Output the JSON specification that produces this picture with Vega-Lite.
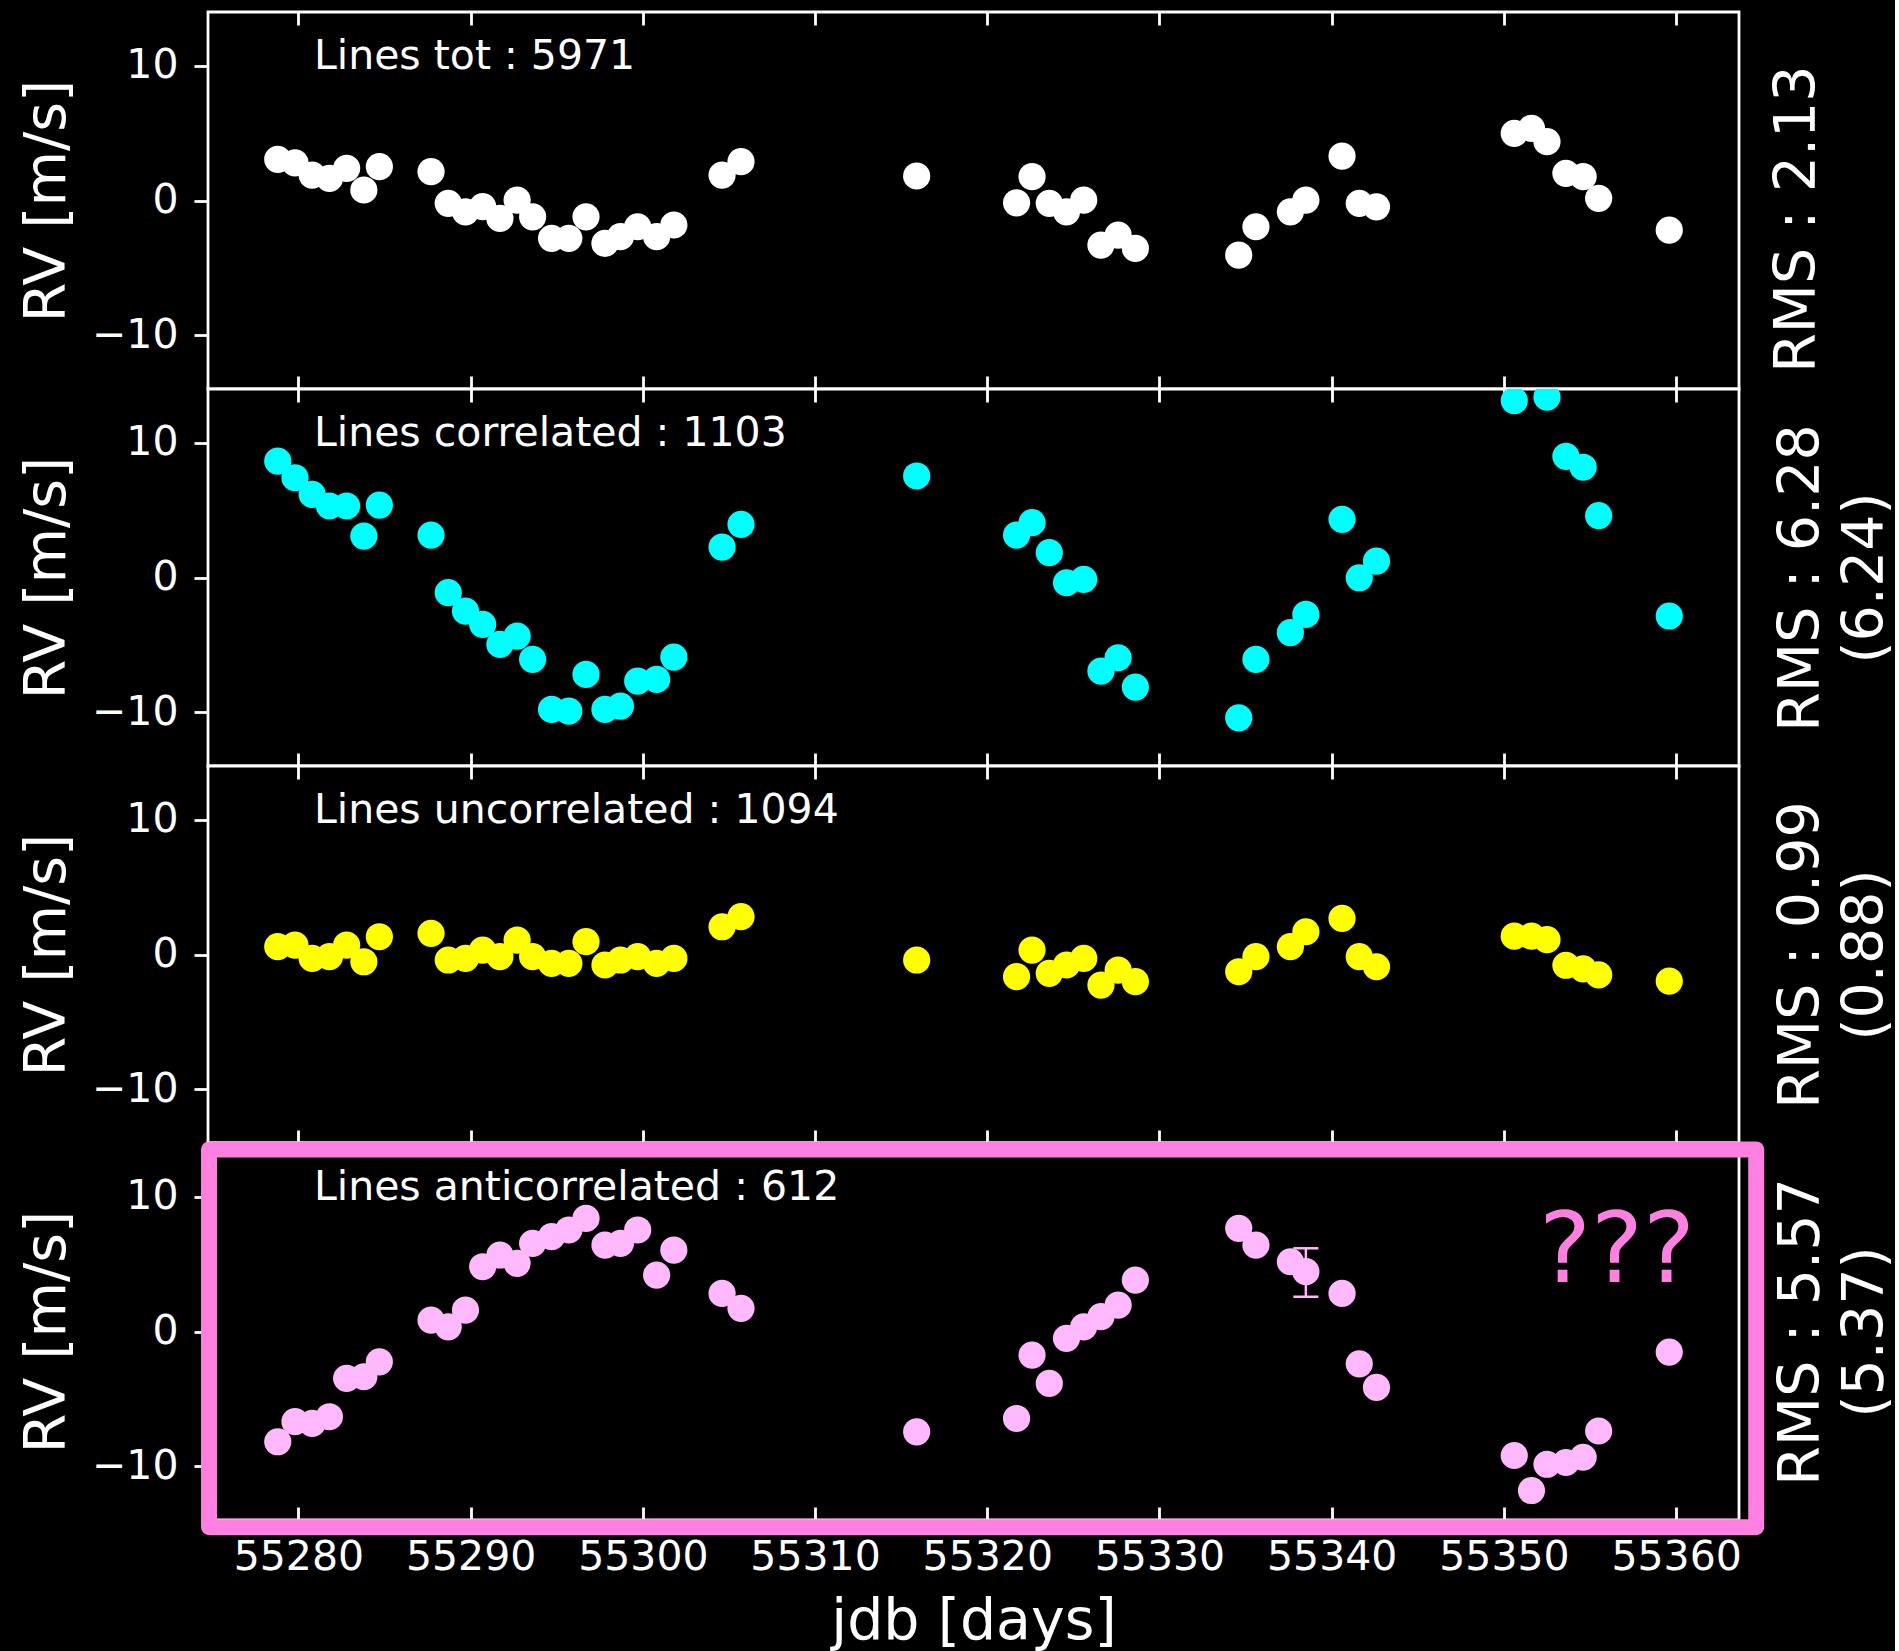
{
  "$schema": "https://vega.github.io/schema/vega-lite/v6.json",
  "background": "#000000",
  "padding": {"left": 16, "top": 9, "right": 0, "bottom": 0},
  "spacing": 0,
  "bounds": "flush",
  "datasets": {
    "rv": [
      {"jdb":55278.8,"tot":3.06,"cor":8.65,"unc":0.58,"anti":-8.19},
      {"jdb":55279.8,"tot":2.8,"cor":7.41,"unc":0.7,"anti":-6.7},
      {"jdb":55280.8,"tot":1.89,"cor":6.17,"unc":-0.29,"anti":-6.83},
      {"jdb":55281.8,"tot":1.64,"cor":5.31,"unc":-0.16,"anti":-6.33},
      {"jdb":55282.8,"tot":2.39,"cor":5.31,"unc":0.7,"anti":-3.48},
      {"jdb":55283.8,"tot":0.78,"cor":3.08,"unc":-0.54,"anti":-3.36},
      {"jdb":55284.7,"tot":2.51,"cor":5.38,"unc":1.32,"anti":-2.25},
      {"jdb":55287.7,"tot":2.14,"cor":3.15,"unc":1.57,"anti":0.85},
      {"jdb":55288.7,"tot":-0.21,"cor":-1.13,"unc":-0.41,"anti":0.35},
      {"jdb":55289.7,"tot":-0.84,"cor":-2.49,"unc":-0.29,"anti":1.59},
      {"jdb":55290.7,"tot":-0.46,"cor":-3.48,"unc":0.33,"anti":4.81},
      {"jdb":55291.7,"tot":-1.33,"cor":-4.97,"unc":-0.16,"anti":5.68},
      {"jdb":55292.7,"tot":0.03,"cor":-4.35,"unc":1.07,"anti":5.06},
      {"jdb":55293.6,"tot":-1.21,"cor":-6.08,"unc":-0.16,"anti":6.55},
      {"jdb":55294.7,"tot":-2.81,"cor":-9.8,"unc":-0.66,"anti":7.04},
      {"jdb":55295.7,"tot":-2.81,"cor":-9.92,"unc":-0.66,"anti":7.54},
      {"jdb":55296.7,"tot":-1.21,"cor":-7.2,"unc":0.95,"anti":8.4},
      {"jdb":55297.8,"tot":-3.19,"cor":-9.8,"unc":-0.78,"anti":6.42},
      {"jdb":55298.7,"tot":-2.69,"cor":-9.55,"unc":-0.41,"anti":6.55},
      {"jdb":55299.7,"tot":-1.95,"cor":-7.69,"unc":-0.16,"anti":7.54},
      {"jdb":55300.8,"tot":-2.69,"cor":-7.57,"unc":-0.66,"anti":4.19},
      {"jdb":55301.8,"tot":-1.82,"cor":-5.91,"unc":-0.29,"anti":6.05},
      {"jdb":55304.6,"tot":1.89,"cor":2.26,"unc":2.06,"anti":2.83},
      {"jdb":55305.7,"tot":2.88,"cor":3.95,"unc":2.81,"anti":1.72},
      {"jdb":55315.9,"tot":1.82,"cor":7.54,"unc":-0.41,"anti":-7.45},
      {"jdb":55321.7,"tot":-0.17,"cor":3.15,"unc":-1.65,"anti":-6.46},
      {"jdb":55322.6,"tot":1.77,"cor":4.07,"unc":0.33,"anti":-1.75},
      {"jdb":55323.6,"tot":-0.21,"cor":1.84,"unc":-1.4,"anti":-3.86},
      {"jdb":55324.6,"tot":-0.84,"cor":-0.39,"unc":-0.78,"anti":-0.51},
      {"jdb":55325.6,"tot":0.03,"cor":-0.14,"unc":-0.29,"anti":0.35},
      {"jdb":55326.6,"tot":-3.31,"cor":-6.95,"unc":-2.27,"anti":1.1},
      {"jdb":55327.6,"tot":-2.57,"cor":-5.96,"unc":-1.16,"anti":1.96},
      {"jdb":55328.6,"tot":-3.56,"cor":-8.14,"unc":-2.02,"anti":3.82},
      {"jdb":55334.6,"tot":-4.05,"cor":-10.42,"unc":-1.28,"anti":7.66},
      {"jdb":55335.6,"tot":-1.95,"cor":-6.08,"unc":-0.16,"anti":6.42},
      {"jdb":55337.6,"tot":-0.84,"cor":-4.1,"unc":0.58,"anti":5.18},
      {"jdb":55338.5,"tot":0.03,"cor":-2.74,"unc":1.69,"anti":4.44},
      {"jdb":55340.6,"tot":3.3,"cor":4.32,"unc":2.68,"anti":2.83},
      {"jdb":55341.6,"tot":-0.21,"cor":-0.02,"unc":-0.16,"anti":-2.4},
      {"jdb":55342.6,"tot":-0.47,"cor":1.22,"unc":-0.91,"anti":-4.15},
      {"jdb":55350.6,"tot":4.99,"cor":13.14,"unc":1.36,"anti":-9.21},
      {"jdb":55351.6,"tot":5.36,"cor":15.2,"unc":1.36,"anti":-11.81},
      {"jdb":55352.5,"tot":4.37,"cor":13.4,"unc":1.1,"anti":-9.86},
      {"jdb":55353.6,"tot":2.02,"cor":9.0,"unc":-0.8,"anti":-9.73},
      {"jdb":55354.6,"tot":1.77,"cor":8.19,"unc":-1.07,"anti":-9.34},
      {"jdb":55355.5,"tot":0.16,"cor":4.59,"unc":-1.52,"anti":-7.39},
      {"jdb":55359.6,"tot":-2.2,"cor":-2.86,"unc":-1.97,"anti":-1.53}
    ],
    "err": [{"jdb": 55338.5, "lo": 2.58, "hi": 6.18}]
  },
  "vconcat": [
    {
      "width": 1531, "height": 377,
      "layer": [
        {
          "data": {"name": "rv"},
          "mark": {"type": "point", "filled": true, "size": 740, "opacity": 1, "clip": true, "color": "#ffffff"},
          "encoding": {
            "x": {"field": "jdb", "type": "quantitative", "scale": {"domain": [55274.75, 55363.65], "nice": false, "zero": false},
                  "axis": {"orient": "bottom", "values": [55280,55290,55300,55310,55320,55330,55340,55350,55360], "tickSize": -13, "labels": false, "title": null}},
            "y": {"field": "tot", "type": "quantitative", "scale": {"domain": [-14, 14], "nice": false, "zero": false},
                  "axis": {"orient": "left", "values": [-10, 0, 10], "tickSize": 14, "labelPadding": 16, "title": "RV [m/s]", "titleAngle": -90, "titleBaseline": "alphabetic", "titlePadding": 24, "minExtent": 120, "maxExtent": 120}}
          }
        },
        {
          "data": {"values": [{"label": "Lines tot : 5971"}]},
          "mark": {"type": "text", "align": "left", "baseline": "alphabetic", "fontSize": 41, "fill": "#ffffff"},
          "encoding": {
            "x": {"datum": 55280.9, "type": "quantitative", "scale": {"domain": [55274.75, 55363.65], "nice": false, "zero": false},
                  "axis": {"orient": "top", "values": [55280,55290,55300,55310,55320,55330,55340,55350,55360], "tickSize": -13, "labels": false, "title": null}},
            "y": {"datum": 9.8, "type": "quantitative",
                  "axis": {"orient": "right", "ticks": false, "labels": false, "title": "RMS : 2.13\u00a0\u00a0\u200b", "titleAngle": -90, "titleBaseline": "alphabetic", "titlePadding": 75, "minExtent": 0, "maxExtent": 0, "titleLineHeight": 64}},
            "text": {"field": "label"}
          }
        }
      ],
      "resolve": {"axis": {"x": "independent", "y": "independent"}}
    },
    {
      "width": 1531, "height": 377,
      "layer": [
        {
          "data": {"name": "rv"},
          "mark": {"type": "point", "filled": true, "size": 740, "opacity": 1, "clip": true, "color": "#00ffff"},
          "encoding": {
            "x": {"field": "jdb", "type": "quantitative", "scale": {"domain": [55274.75, 55363.65], "nice": false, "zero": false},
                  "axis": {"orient": "bottom", "values": [55280,55290,55300,55310,55320,55330,55340,55350,55360], "tickSize": -13, "labels": false, "title": null}},
            "y": {"field": "cor", "type": "quantitative", "scale": {"domain": [-14, 14], "nice": false, "zero": false},
                  "axis": {"orient": "left", "values": [-10, 0, 10], "tickSize": 14, "labelPadding": 16, "title": "RV [m/s]", "titleAngle": -90, "titleBaseline": "alphabetic", "titlePadding": 24, "minExtent": 120, "maxExtent": 120}}
          }
        },
        {
          "data": {"values": [{"label": "Lines correlated : 1103"}]},
          "mark": {"type": "text", "align": "left", "baseline": "alphabetic", "fontSize": 41, "fill": "#ffffff"},
          "encoding": {
            "x": {"datum": 55280.9, "type": "quantitative", "scale": {"domain": [55274.75, 55363.65], "nice": false, "zero": false},
                  "axis": {"orient": "top", "values": [55280,55290,55300,55310,55320,55330,55340,55350,55360], "tickSize": -13, "labels": false, "title": null}},
            "y": {"datum": 9.8, "type": "quantitative",
                  "axis": {"orient": "right", "ticks": false, "labels": false, "title": ["RMS : 6.28", "(6.24)"], "titleAngle": -90, "titleBaseline": "alphabetic", "titlePadding": 15, "minExtent": 0, "maxExtent": 0, "titleLineHeight": 64}},
            "text": {"field": "label"}
          }
        }
      ],
      "resolve": {"axis": {"x": "independent", "y": "independent"}}
    },
    {
      "width": 1531, "height": 377,
      "layer": [
        {
          "data": {"name": "rv"},
          "mark": {"type": "point", "filled": true, "size": 740, "opacity": 1, "clip": true, "color": "#ffff00"},
          "encoding": {
            "x": {"field": "jdb", "type": "quantitative", "scale": {"domain": [55274.75, 55363.65], "nice": false, "zero": false},
                  "axis": {"orient": "bottom", "values": [55280,55290,55300,55310,55320,55330,55340,55350,55360], "tickSize": -13, "labels": false, "title": null}},
            "y": {"field": "unc", "type": "quantitative", "scale": {"domain": [-14, 14], "nice": false, "zero": false},
                  "axis": {"orient": "left", "values": [-10, 0, 10], "tickSize": 14, "labelPadding": 16, "title": "RV [m/s]", "titleAngle": -90, "titleBaseline": "alphabetic", "titlePadding": 24, "minExtent": 120, "maxExtent": 120}}
          }
        },
        {
          "data": {"values": [{"label": "Lines uncorrelated : 1094"}]},
          "mark": {"type": "text", "align": "left", "baseline": "alphabetic", "fontSize": 41, "fill": "#ffffff"},
          "encoding": {
            "x": {"datum": 55280.9, "type": "quantitative", "scale": {"domain": [55274.75, 55363.65], "nice": false, "zero": false},
                  "axis": {"orient": "top", "values": [55280,55290,55300,55310,55320,55330,55340,55350,55360], "tickSize": -13, "labels": false, "title": null}},
            "y": {"datum": 9.8, "type": "quantitative",
                  "axis": {"orient": "right", "ticks": false, "labels": false, "title": ["RMS : 0.99", "(0.88)"], "titleAngle": -90, "titleBaseline": "alphabetic", "titlePadding": 15, "minExtent": 0, "maxExtent": 0, "titleLineHeight": 64}},
            "text": {"field": "label"}
          }
        }
      ],
      "resolve": {"axis": {"x": "independent", "y": "independent"}}
    },
    {
      "width": 1531, "height": 377,
      "layer": [
        {
          "data": {"name": "rv"},
          "mark": {"type": "point", "filled": true, "size": 740, "opacity": 1, "clip": true, "color": "#ffb8fb"},
          "encoding": {
            "x": {"field": "jdb", "type": "quantitative", "scale": {"domain": [55274.75, 55363.65], "nice": false, "zero": false},
                  "axis": {"orient": "bottom", "values": [55280,55290,55300,55310,55320,55330,55340,55350,55360], "format": "d", "tickSize": -13, "labelPadding": 30, "title": "jdb [days]", "titleBaseline": "alphabetic", "titlePadding": 58, "minExtent": 60, "maxExtent": 60}},
            "y": {"field": "anti", "type": "quantitative", "scale": {"domain": [-14, 14], "nice": false, "zero": false},
                  "axis": {"orient": "left", "values": [-10, 0, 10], "tickSize": 14, "labelPadding": 16, "title": "RV [m/s]", "titleAngle": -90, "titleBaseline": "alphabetic", "titlePadding": 24, "minExtent": 120, "maxExtent": 120}}
          }
        },
        {
          "data": {"values": [{"label": "Lines anticorrelated : 612"}]},
          "mark": {"type": "text", "align": "left", "baseline": "alphabetic", "fontSize": 41, "fill": "#ffffff"},
          "encoding": {
            "x": {"datum": 55280.9, "type": "quantitative", "scale": {"domain": [55274.75, 55363.65], "nice": false, "zero": false},
                  "axis": {"orient": "top", "values": [55280,55290,55300,55310,55320,55330,55340,55350,55360], "tickSize": -13, "labels": false, "title": null}},
            "y": {"datum": 9.8, "type": "quantitative",
                  "axis": {"orient": "right", "ticks": false, "labels": false, "title": ["RMS : 5.57", "(5.37)"], "titleAngle": -90, "titleBaseline": "alphabetic", "titlePadding": 15, "minExtent": 0, "maxExtent": 0, "titleLineHeight": 64}},
            "text": {"field": "label"}
          }
        },
        {
          "data": {"name": "err"},
          "mark": {"type": "rule", "color": "#ffb8fb", "strokeWidth": 2.5},
          "encoding": {
            "x": {"field": "jdb", "type": "quantitative", "axis": null},
            "y": {"field": "lo", "type": "quantitative", "axis": null},
            "y2": {"field": "hi"}
          }
        },
        {
          "data": {"name": "err"},
          "mark": {"type": "tick", "orient": "horizontal", "color": "#ffb8fb", "size": 25, "thickness": 2.5, "opacity": 1},
          "encoding": {
            "x": {"field": "jdb", "type": "quantitative", "axis": null},
            "y": {"field": "lo", "type": "quantitative", "axis": null}
          }
        },
        {
          "data": {"name": "err"},
          "mark": {"type": "tick", "orient": "horizontal", "color": "#ffb8fb", "size": 25, "thickness": 2.5, "opacity": 1},
          "encoding": {
            "x": {"field": "jdb", "type": "quantitative", "axis": null},
            "y": {"field": "hi", "type": "quantitative", "axis": null}
          }
        },
        {
          "data": {"values": [{"note": "???"}]},
          "mark": {"type": "text", "align": "center", "baseline": "alphabetic", "fontSize": 98, "fill": "#ff80e0"},
          "encoding": {
            "x": {"datum": 55356.57, "type": "quantitative", "axis": null},
            "y": {"datum": 3.67, "type": "quantitative", "axis": null},
            "text": {"field": "note"}
          }
        },
        {
          "data": {"values": [{"box": "highlight"}]},
          "mark": {"type": "rect", "fillOpacity": 0, "fill": "#000000", "stroke": "#ff80e0", "strokeWidth": 16, "strokeJoin": "round", "clip": false},
          "encoding": {
            "x": {"datum": 55274.81, "type": "quantitative", "axis": null},
            "x2": {"datum": 55364.65},
            "y": {"datum": 13.52, "type": "quantitative", "axis": null},
            "y2": {"datum": -14.53}
          }
        }
      ],
      "resolve": {"axis": {"x": "independent", "y": "independent"}}
    }
  ],
  "config": {
    "font": "DejaVu Sans",
    "view": {"stroke": "#ffffff", "strokeWidth": 2.8, "fill": "#000000"},
    "axis": {
      "domain": false, "grid": false,
      "tickColor": "#ffffff", "tickWidth": 2.8,
      "labelColor": "#ffffff", "titleColor": "#ffffff",
      "labelFont": "DejaVu Sans", "titleFont": "DejaVu Sans",
      "labelFontSize": 41, "titleFontSize": 57, "titleFontWeight": "normal"
    }
  }
}
